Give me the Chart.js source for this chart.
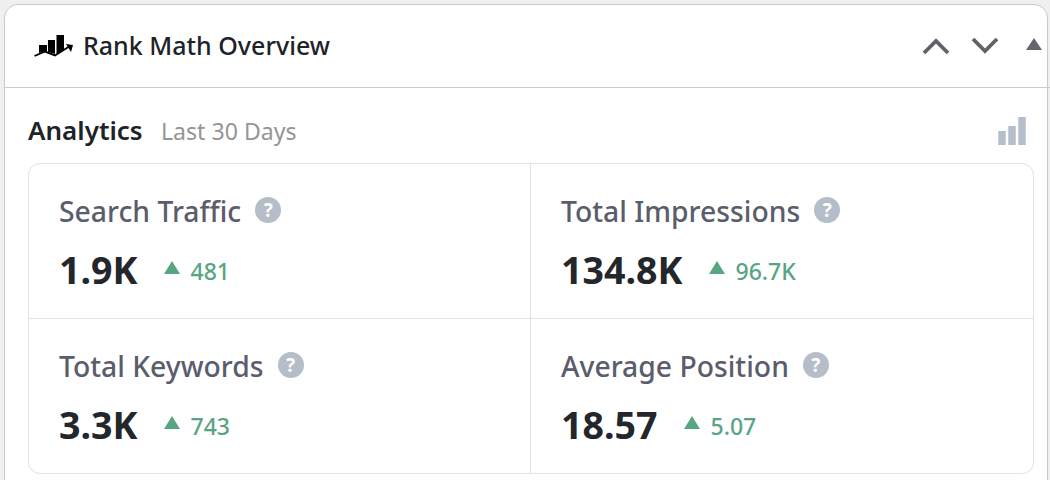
<!DOCTYPE html>
<html>
<head>
<meta charset="utf-8">
<title>Rank Math Overview</title>
<script src="https://cdn.jsdelivr.net/npm/chart.js@4"></script>
<style>
html, body { margin: 0; padding: 0; width: 1050px; height: 480px; overflow: hidden; background: #f0f0f1; }
body { font-family: "Noto Sans", "Open Sans", sans-serif; position: relative; }
.widget { position: absolute; left: 4px; top: 4px; width: 1044px; height: 520px; box-sizing: border-box; background: #fff; border: 1px solid #c9cacc; border-radius: 14px; }
.abs { position: absolute; white-space: nowrap; line-height: 1; }
.head-line { position: absolute; left: 5px; top: 87px; width: 1045px; height: 1px; background: #c9cacc; }
#title { left: 83px; top: 33px; font-size: 25px; font-weight: 500; color: #1d2327; }
#section { left: 28px; top: 117px; font-size: 26px; font-weight: 600; color: #1d2327; }
#range { left: 161px; top: 120px; font-size: 23.1px; color: #959595; }
#iconBars { position: absolute; left: 997px; top: 117px; width: 30px; height: 28px; }
.box { position: absolute; left: 28px; top: 163px; width: 1006px; height: 311px; box-sizing: border-box; border: 1px solid #e1e2e4; border-radius: 12px; }
.vline { position: absolute; left: 530px; top: 164px; width: 1px; height: 309px; background: #e1e2e4; }
.hline { position: absolute; left: 29px; top: 318px; width: 1004px; height: 1px; background: #e1e2e4; }
.kpi { position: absolute; }
.kpi .name { display: flex; align-items: center; height: 34px; font-size: 28.3px; font-weight: 500; color: #5a5d6c; white-space: nowrap; }
.kpi .help { width: 26px; height: 26px; margin-left: 14px; margin-top: -2px; border-radius: 50%; background: #b5bdc9; color: #fff; font-size: 19px; font-weight: 700; line-height: 26px; text-align: center; }
.kpi .row { display: flex; align-items: center; height: 46px; margin-top: 18px; white-space: nowrap; }
.kpi .val { font-size: 37.6px; font-weight: 700; color: #23262a; }
.kpi .tri { width: 0; height: 0; margin-left: 26px; margin-right: 11px; margin-top: -4px; border-left: 8px solid transparent; border-right: 8px solid transparent; border-bottom: 13px solid #58a584; }
.kpi .delta { font-size: 23px; font-weight: 500; color: #58a584; margin-top: 4px; }
</style>
</head>
<body>
<div class="widget"></div>
<div class="head-line"></div>

<svg class="abs" style="left:34px;top:32px" width="40" height="28" viewBox="0 0 40 28">
  <path d="M5 13 L13 13 L13 19 L5 21 Z M14 8 L21 8 L21 22 L14 20 Z M22.5 3 L30 3 L30 18 L23 22 L22.5 22 Z" fill="#000"/>
  <path d="M0.5 24 L11 19.5 L21 23.5 L36 14" fill="none" stroke="#000" stroke-width="1.9"/>
  <path d="M32 12 L39 13 L37 20 Z" fill="#000"/>
</svg>
<div class="abs" id="title">Rank Math Overview</div>

<svg class="abs" style="left:922px;top:37px" width="28" height="18" viewBox="0 0 28 18">
  <path d="M2 16 L14 4 L26 16" fill="none" stroke="#5f6368" stroke-width="3.8"/>
</svg>
<svg class="abs" style="left:971px;top:37px" width="28" height="18" viewBox="0 0 28 18">
  <path d="M2 2 L14 14 L26 2" fill="none" stroke="#5f6368" stroke-width="3.8"/>
</svg>
<svg class="abs" style="left:1026px;top:38px" width="16" height="13" viewBox="0 0 16 13">
  <path d="M8 0 L16 12 L0 12 Z" fill="#63676d"/>
</svg>

<div class="abs" id="section">Analytics</div>
<div class="abs" id="range">Last 30 Days</div>
<div id="iconBars"><canvas id="barsCanvas"></canvas></div>

<div class="box"></div>
<div class="vline"></div>
<div class="hline"></div>
<div id="kpis"></div>

<script>
// values as shown in the widget
const kpiNames = ['Search Traffic', 'Total Impressions', 'Total Keywords', 'Average Position'];
const kpiValues = ['1.9K', '134.8K', '3.3K', '18.57'];
const kpiDeltas = ['481', '96.7K', '743', '5.07'];
const iconBarLabels = ['a', 'b', 'c'];
const iconBarValues = [14, 19, 28];

const wrap = document.getElementById('kpis');
kpiNames.forEach((name, i) => {
    const el = document.createElement('div');
    el.className = 'kpi';
    el.style.left = (i % 2 ? 561 : 59) + 'px';
    el.style.top = (i < 2 ? 194 : 349) + 'px';
    el.innerHTML = '<div class="name">' + name + '<span class="help">?</span></div>' +
        '<div class="row"><span class="val">' + kpiValues[i] + '</span><span class="tri"></span>' +
        '<span class="delta">' + kpiDeltas[i] + '</span></div>';
    wrap.appendChild(el);
});

new Chart(document.getElementById('barsCanvas').getContext('2d'), {
    type: 'bar',
    data: {
        labels: iconBarLabels,
        datasets: [{
            data: iconBarValues,
            backgroundColor: '#b5bfcc',
            barPercentage: 0.75,
            categoryPercentage: 1
        }]
    },
    options: {
        responsive: true,
        maintainAspectRatio: false,
        animation: false,
        events: [],
        layout: { padding: 0 },
        plugins: { legend: { display: false }, tooltip: { enabled: false } },
        scales: {
            x: { display: false },
            y: { display: false, min: 0, max: 28 }
        }
    }
});
</script>
</body>
</html>
